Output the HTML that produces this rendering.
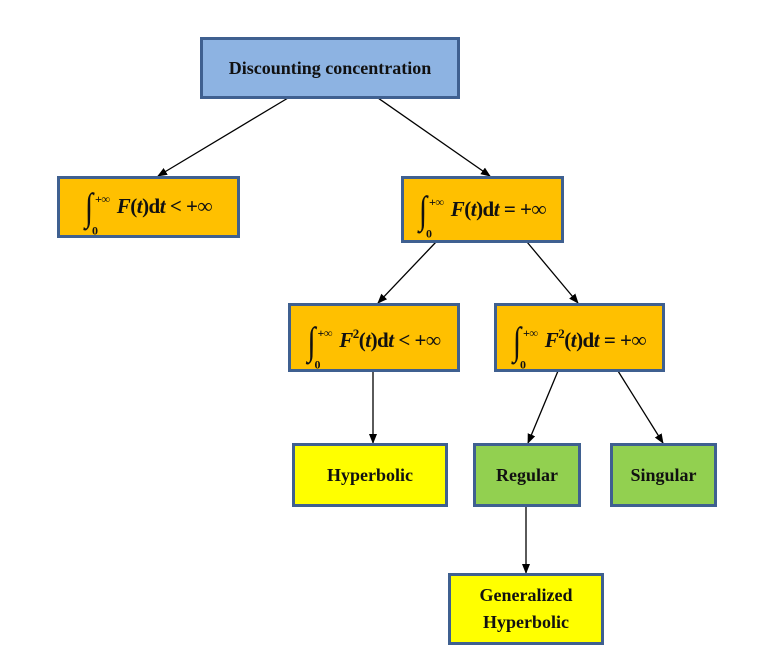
<!DOCTYPE html>
<html><head><style>
body{margin:0;width:759px;height:667px;background:#fff;position:relative;overflow:hidden;font-family:"Liberation Serif",serif;}
.b{position:absolute;box-sizing:border-box;border:3px solid #3f6090;display:flex;align-items:center;justify-content:center;text-align:center;font-weight:bold;font-size:18px;color:#111;line-height:27px;}
.o{background:#ffc000;}
.m{font-size:21px;font-weight:bold;white-space:nowrap;letter-spacing:-0.5px}
.m i{font-style:italic}
.int{display:inline-block;position:relative;font-size:30px;font-weight:normal;margin-right:24px;vertical-align:-4px;transform:scaleY(1.3)}
.int sup{position:absolute;left:10px;top:-6px;font-size:12px;font-weight:bold;transform:scaleY(0.77)}
.int sub{position:absolute;left:7px;top:18px;font-size:12px;font-weight:bold;transform:scaleY(0.77)}
.s2{font-size:13px;vertical-align:9px}
</style></head><body>
<svg width="759" height="667" style="position:absolute;left:0;top:0">
<defs><marker id="a" markerWidth="10" markerHeight="10" refX="9" refY="5" orient="auto" markerUnits="userSpaceOnUse"><path d="M0,1 L10,5 L0,9 Z" fill="#000"/></marker></defs>
<g stroke="#000" stroke-width="1.3" marker-end="url(#a)">
<line x1="288" y1="98" x2="158" y2="176"/>
<line x1="378" y1="98" x2="490" y2="176"/>
<line x1="436" y1="242" x2="378" y2="303"/>
<line x1="527" y1="242" x2="578" y2="303"/>
<line x1="373" y1="371" x2="373" y2="443"/>
<line x1="558" y1="371" x2="528" y2="443"/>
<line x1="618" y1="371" x2="663" y2="443"/>
<line x1="526" y1="506" x2="526" y2="573"/>
</g></svg>
<div class="b" style="left:200px;top:37px;width:260px;height:62px;background:#8db3e2">Discounting concentration</div>
<div class="b o" style="left:57px;top:176px;width:183px;height:62px"><span class="m"><span class="int">∫<sup>+∞</sup><sub>0</sub></span><i>F</i>(<i>t</i>)d<i>t</i> &lt; +∞</span></div>
<div class="b o" style="left:401px;top:176px;width:163px;height:67px"><span class="m"><span class="int">∫<sup>+∞</sup><sub>0</sub></span><i>F</i>(<i>t</i>)d<i>t</i> = +∞</span></div>
<div class="b o" style="left:288px;top:303px;width:172px;height:69px"><span class="m"><span class="int">∫<sup>+∞</sup><sub>0</sub></span><i>F</i><span class="s2">2</span>(<i>t</i>)d<i>t</i> &lt; +∞</span></div>
<div class="b o" style="left:494px;top:303px;width:171px;height:69px"><span class="m"><span class="int">∫<sup>+∞</sup><sub>0</sub></span><i>F</i><span class="s2">2</span>(<i>t</i>)d<i>t</i> = +∞</span></div>
<div class="b" style="left:292px;top:443px;width:156px;height:64px;background:#ffff00">Hyperbolic</div>
<div class="b" style="left:473px;top:443px;width:108px;height:64px;background:#92d050">Regular</div>
<div class="b" style="left:610px;top:443px;width:107px;height:64px;background:#92d050">Singular</div>
<div class="b" style="left:448px;top:573px;width:156px;height:72px;background:#ffff00">Generalized<br>Hyperbolic</div>
</body></html>
